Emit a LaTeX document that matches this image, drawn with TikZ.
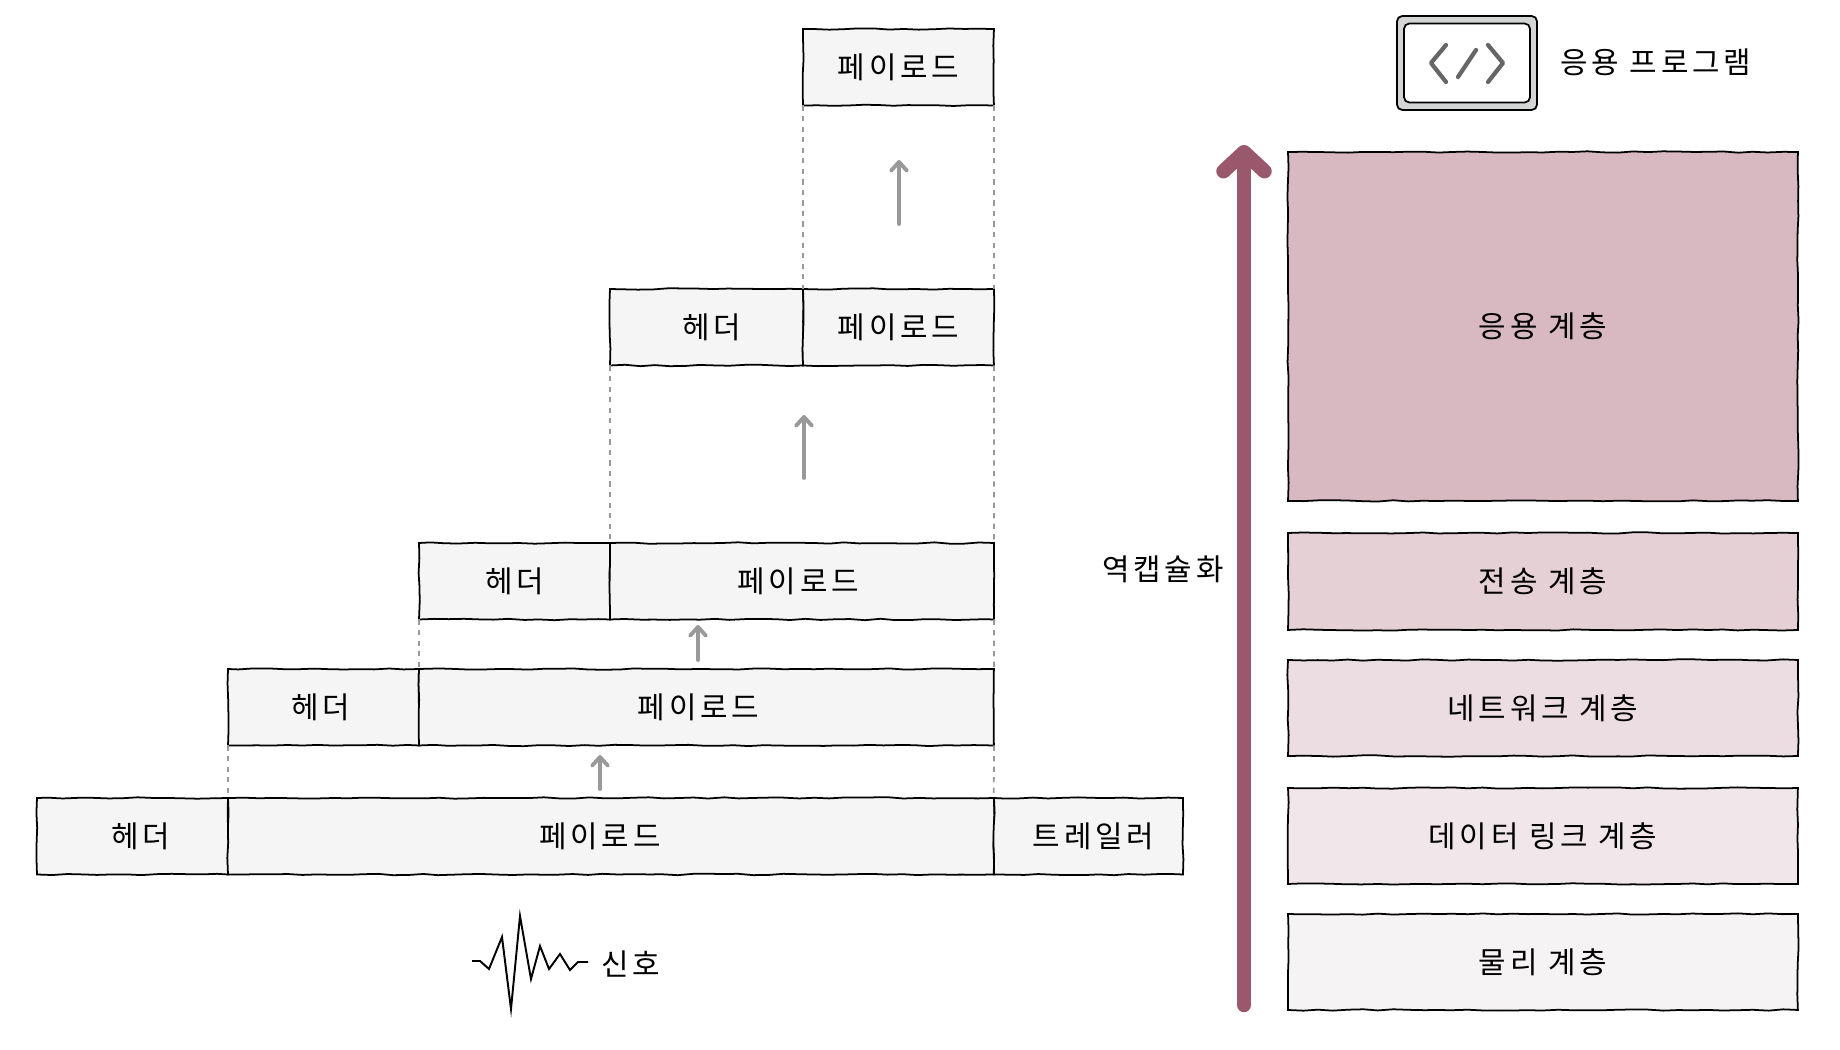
\documentclass[tikz,border=0pt]{standalone}
\usepackage{xcolor}
\usepackage{fontspec}
\setmainfont[LetterSpace=13]{Noto Sans CJK KR}
\usepackage{tikz}
\usetikzlibrary{arrows.meta,decorations.pathmorphing}
\definecolor{BoxGray}{HTML}{F5F5F5}
\definecolor{DashGray}{HTML}{999999}
\definecolor{IconGray}{HTML}{D3D5D5}
\definecolor{CodeGray}{HTML}{666666}
\definecolor{StackRed}{HTML}{9A586C}
\definecolor{AppFill}{HTML}{D8B9C2}
\definecolor{TransFill}{HTML}{E5D0D6}
\definecolor{NetFill}{HTML}{EBDDE1}
\definecolor{LinkFill}{HTML}{F1E7EB}
\definecolor{PhysFill}{HTML}{F6F3F4}
\tikzset{
  wobble/.style={decorate,decoration={random steps,segment length=0.3cm,amplitude=0.4pt}},
  pktbox/.style={
    wobble,draw=black,fill=BoxGray,line width=1pt,anchor=north west,outer sep=0pt,
    minimum height=1.53cm,inner sep=0pt,font=\fontsize{17}{20}\selectfont
  },
  layerbox/.style={
    wobble,draw=black,line width=1pt,anchor=north west,outer sep=0pt,
    minimum width=10.2cm,inner sep=0pt,font=\fontsize{17}{20}\selectfont
  },
  lbl/.style={inner sep=0pt,font=\fontsize{17}{20}\selectfont},
  dashline/.style={draw=DashGray,line width=1pt,dashed},
  uparrow/.style={draw=DashGray,line width=2.2pt,line cap=round,-{Straight Barb[length=5pt,width=9pt,round]}},
}
\begin{document}
\begin{tikzpicture}[x=0.02cm,y=-0.02cm]
  \pgfmathsetseed{7}
  \useasboundingbox (0,0) rectangle (1840,1050);
  % Packet rows
  \node[pktbox,minimum width=3.82cm] (p1) at (803,29) {페이로드};
  \node[pktbox,minimum width=3.86cm] (h2) at (610,289) {\kern0.2cm 헤더};
  \node[pktbox,minimum width=3.82cm] (p2) at (803,289) {페이로드};
  \node[pktbox,minimum width=3.82cm] (h3) at (419,543) {헤더};
  \node[pktbox,minimum width=7.68cm] (p3) at (610,543) {\kern-0.15cm 페이로드};
  \node[pktbox,minimum width=3.82cm] (h4) at (228,669) {\kern-0.1cm 헤더};
  \node[pktbox,minimum width=11.5cm] (p4) at (419,669) {\kern-0.32cm 페이로드};
  \node[pktbox,minimum width=3.82cm] (h5) at (37,798) {\kern0.32cm 헤더};
  \node[pktbox,minimum width=15.32cm] (p5) at (228,798) {\kern-0.44cm 페이로드};
  \node[pktbox,minimum width=3.78cm] (t5) at (994,798) {\kern0.2cm 트레일러};
  % Dashed guides
  \draw[dashline] (p1.south west) -- (p2.north west);
  \draw[dashline] (p1.south east) -- (p2.north east);
  \draw[dashline] (h2.south west) -- (p3.north west);
  \draw[dashline] (p2.south east) -- (p3.north east);
  \draw[dashline] (h3.south west) -- (p4.north west);
  \draw[dashline] (p3.south east) -- (p4.north east);
  \draw[dashline] (h4.south west) -- (p5.north west);
  \draw[dashline] (p4.south east) -- (p5.north east);
  % Grey arrows
  \coordinate (a1s) at (899,224);
  \coordinate (a1e) at (899,160);
  \coordinate (a2s) at (804,478);
  \coordinate (a2e) at (804,415);
  \coordinate (a3s) at (698,660);
  \coordinate (a3e) at (698,625);
  \coordinate (a4s) at (600,789);
  \coordinate (a4e) at (600,755);
  \draw[uparrow] (a1s) -- (a1e);
  \draw[uparrow] (a2s) -- (a2e);
  \draw[uparrow] (a3s) -- (a3e);
  \draw[uparrow] (a4s) -- (a4e);
  % Signal
  \draw[line width=1.1pt,line join=miter] (472,961) -- (480,961) -- (489,969) -- (502,937) -- (511,1009) -- (520,916) -- (531,979) -- (540,946) -- (549,969) -- (560,954) -- (570,970) -- (578,962) -- (588,962);
  \node[lbl] (signal) at (631,964) {신호};
  % Layers
  \node[layerbox,fill=AppFill,minimum height=6.98cm] (app) at (1288,152) {응용 계층};
  \node[layerbox,fill=TransFill,minimum height=1.94cm] (trans) at (1288,533) {전송 계층};
  \node[layerbox,fill=NetFill,minimum height=1.92cm] (net) at (1288,660) {네트워크 계층};
  \node[layerbox,fill=LinkFill,minimum height=1.92cm] (link) at (1288,788) {데이터 링크 계층};
  \node[layerbox,fill=PhysFill,minimum height=1.92cm] (phys) at (1288,914) {물리 계층};
  % Stack arrow
  \coordinate (ups) at (1244,1005);
  \coordinate (upe) at (1244,145);
  \draw[draw=StackRed,line width=0.29cm,line cap=round,-{Straight Barb[length=0.38cm,width=0.82cm,round]}] (ups) -- (upe);
  \node[lbl] (decap) at (1163,569) {역캡슐화};
  % Program icon
  \node[draw=black,fill=IconGray,line width=1pt,rounded corners=3pt,minimum width=2.8cm,minimum height=1.88cm] (icon) at (1467,63) {};
  \node[draw=black,fill=white,line width=1pt,rounded corners=3pt,minimum width=2.52cm,minimum height=1.58cm] (screen) at (icon.center) {};
  \draw[draw=CodeGray,line width=2.4pt,line cap=round,line join=round] (1446,45) -- (1431,63) -- (1446,82);
  \draw[draw=CodeGray,line width=2.4pt,line cap=round] (1458,77) -- (1476,50);
  \draw[draw=CodeGray,line width=2.4pt,line cap=round,line join=round] (1488,45) -- (1503,63) -- (1488,82);
  \node[lbl] (applabel) at (1656,62) {응용 프로그램};
\end{tikzpicture}
\end{document}
